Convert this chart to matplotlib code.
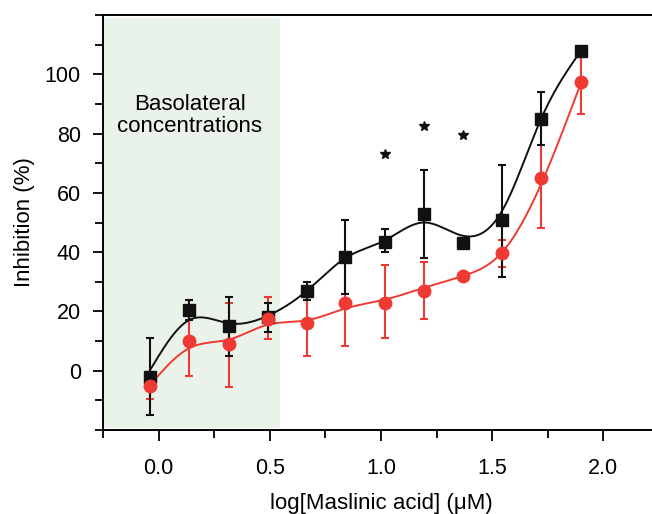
import numpy as np
import matplotlib
matplotlib.use('Agg')
import matplotlib.pyplot as plt
from matplotlib.ticker import MultipleLocator

plt.rcParams['font.family'] = ['Liberation Sans', 'DejaVu Sans']

# log concentration of maslinic acid
log_conc = [-0.04, 0.135, 0.315, 0.49, 0.667, 0.84, 1.018, 1.194, 1.37, 1.545, 1.72, 1.90]

# black series (squares): mean, lower and upper error bar ends
blk_mean = [-2, 20.5, 15, 18, 27, 38.5, 43.5, 53, 43, 51, 85, 108]
blk_low = [-15, 17, 5, 13, 24, 26, 40, 38, None, 31.5, 76, 107]
blk_high = [11, 24, 25, 23, 30, 51, 47.7, 67.8, None, 69.5, 94, 109]
blk_fit = [0, 17, 16, 18.5, 27, 38, 44, 50, 45.5, 54, 85, 108]

# red series (circles)
red_mean = [-5, 10, 9, 17.4, 16, 22.8, 23, 27, 32, 39.6, 65, 97.3]
red_low = [-9.7, -1.7, -5.4, 10.7, 5, 8.4, 11, 17.4, None, 35, 48, 86.5]
red_high = [-2, 24, 23, 25, 27, 37, 35.5, 36.6, None, 44, 84, 108]
red_fit = [-5, 7.5, 10.5, 15.5, 17, 21, 24, 28, 32, 40, 63, 97.3]

# significance marks
star_x = [1.018, 1.194, 1.37]
star_y = [73, 82.5, 79.5]

BLACK = '#111111'
RED = '#ee3a33'


def natural_spline(x, y, n=400):
    x = np.asarray(x, float)
    y = np.asarray(y, float)
    k = len(x)
    h = np.diff(x)
    A = np.zeros((k, k))
    b = np.zeros(k)
    A[0, 0] = A[-1, -1] = 1
    for i in range(1, k - 1):
        A[i, i - 1] = h[i - 1]
        A[i, i] = 2 * (h[i - 1] + h[i])
        A[i, i + 1] = h[i]
        b[i] = 6 * ((y[i + 1] - y[i]) / h[i] - (y[i] - y[i - 1]) / h[i - 1])
    M = np.linalg.solve(A, b)
    xs = np.linspace(x[0], x[-1], n)
    j = np.clip(np.searchsorted(x, xs) - 1, 0, k - 2)
    t0 = x[j + 1] - xs
    t1 = xs - x[j]
    hj = h[j]
    ys = (M[j] * t0 ** 3 + M[j + 1] * t1 ** 3) / (6 * hj) \
        + (y[j] / hj - M[j] * hj / 6) * t0 + (y[j + 1] / hj - M[j + 1] * hj / 6) * t1
    return xs, ys


def draw_bars(ax, mean, low, high, color):
    idx = [i for i in range(len(mean)) if low[i] is not None]
    xv = np.array([log_conc[i] for i in idx])
    mv = np.array([mean[i] for i in idx])
    lo = mv - np.array([low[i] for i in idx])
    hi = np.array([high[i] for i in idx]) - mv
    ax.errorbar(xv, mv, yerr=[lo, hi], fmt='none', ecolor=color,
                elinewidth=1.5, capsize=3.2, capthick=1.5, zorder=2)


fig = plt.figure(figsize=(6.52, 5.14), dpi=100)
ax = fig.add_axes([103 / 652, 84 / 514, 556 / 652, 415 / 514])

ax.axvspan(-0.245, 0.545, ymin=0.006, ymax=0.992, color='#eaf3ea', lw=0, zorder=0)

draw_bars(ax, red_mean, red_low, red_high, RED)
draw_bars(ax, blk_mean, blk_low, blk_high, BLACK)

xs, ys = natural_spline(log_conc, red_fit)
ax.plot(xs, ys, color=RED, lw=1.4, zorder=3)
xs, ys = natural_spline(log_conc, blk_fit)
ax.plot(xs, ys, color=BLACK, lw=1.4, zorder=3)

ax.plot(log_conc, blk_mean, 's', color=BLACK, ms=8, zorder=4)
ax.plot(log_conc, red_mean, 'o', color=RED, ms=9, zorder=5)

ax.plot(star_x, star_y, '*', color=BLACK, ms=7, zorder=5)

ax.text(0.14, 86, 'Basolateral\nconcentrations', ha='center', va='center',
        fontsize=16, linespacing=1.05)

ax.set_xlim(-0.25, 2.25)
ax.set_ylim(-20, 120)
ax.set_xticks([0, 0.5, 1.0, 1.5, 2.0])
ax.set_xticklabels(['0.0', '0.5', '1.0', '1.5', '2.0'])
ax.xaxis.set_minor_locator(MultipleLocator(0.25))
ax.set_yticks([0, 20, 40, 60, 80, 100])
ax.yaxis.set_minor_locator(MultipleLocator(10))
ax.tick_params(which='both', direction='out', width=1.3, labelsize=15.5)
ax.tick_params(axis='x', which='major', length=8, pad=12)
ax.tick_params(axis='x', which='minor', length=6)
ax.tick_params(axis='y', which='major', length=7, pad=9)
ax.tick_params(axis='y', which='minor', length=6)
for spine in ax.spines.values():
    spine.set_linewidth(1.4)

ax.set_xlabel('log[Maslinic acid] (μM)', fontsize=16, labelpad=10)
ax.set_ylabel('Inhibition (%)', fontsize=16, labelpad=7)

fig.savefig('out.png', dpi=100)
